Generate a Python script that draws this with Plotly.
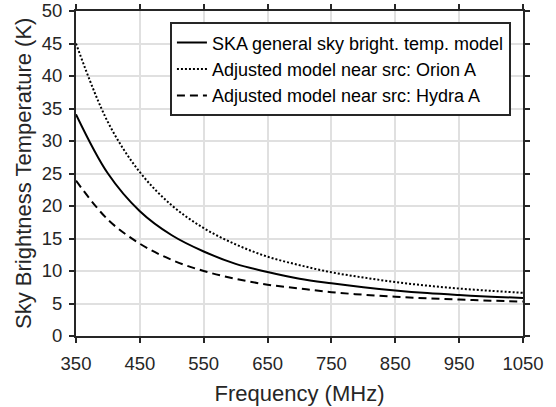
import plotly.graph_objects as go

freq = [350, 400, 450, 500, 550, 600, 650, 700, 750, 800, 850, 900, 950, 1000, 1050]
ska_general = [34.1, 25.0, 19.2, 15.5, 13.0, 11.1, 9.85, 8.8, 8.1, 7.5, 7.0, 6.6, 6.3, 6.05, 5.85]
orion_a = [45.0, 32.9, 25.2, 20.1, 16.6, 14.1, 12.2, 10.9, 9.8, 9.0, 8.3, 7.75, 7.3, 6.95, 6.65]
hydra_a = [23.9, 17.9, 14.2, 11.7, 10.0, 8.8, 7.9, 7.3, 6.75, 6.35, 6.05, 5.8, 5.6, 5.43, 5.3]

names = ["SKA general sky bright. temp. model",
         "Adjusted model near src: Orion A",
         "Adjusted model near src: Hydra A"]
x_ticks = [350, 450, 550, 650, 750, 850, 950, 1050]
y_ticks = [0, 5, 10, 15, 20, 25, 30, 35, 40, 45, 50]

dark = "#262626"
font = "Liberation Sans, Arial, Helvetica, sans-serif"

fig = go.Figure()
fig.add_trace(go.Scatter(x=freq, y=ska_general, mode="lines", name=names[0],
                         line=dict(color="black", width=2, shape="spline")))
fig.add_trace(go.Scatter(x=freq, y=orion_a, mode="lines", name=names[1],
                         line=dict(color="black", width=2, dash="2px,2px", shape="spline")))
fig.add_trace(go.Scatter(x=freq, y=hydra_a, mode="lines", name=names[2],
                         line=dict(color="black", width=2, dash="8px,5px", shape="spline")))

axis_common = dict(
    showline=True, linecolor=dark, linewidth=2, mirror="ticks",
    ticks="outside", ticklen=5, tickwidth=2, tickcolor=dark,
    showgrid=True, gridcolor="#e0e0e0", gridwidth=2,
    zeroline=False, automargin=False,
    tickfont=dict(family=font, size=18.5, color=dark),
)

fig.update_layout(
    width=556, height=407,
    margin=dict(l=76, r=33, t=11, b=71),
    paper_bgcolor="white", plot_bgcolor="white",
    font=dict(family=font, size=18, color=dark),
    xaxis=dict(range=[350, 1050], tickvals=x_ticks, ticklabelstandoff=5,
               title=dict(text="Frequency (MHz)", font=dict(family=font, size=22, color=dark), standoff=12),
               **axis_common),
    yaxis=dict(range=[0, 50], tickvals=y_ticks, ticklabelstandoff=3,
               **axis_common),
    legend=dict(x=0.973, y=0.965, xanchor="right", yanchor="top",
                bgcolor="white", bordercolor=dark, borderwidth=2,
                font=dict(family=font, size=18, color="black"),
                tracegroupgap=0),
    showlegend=True,
    annotations=[dict(text="Sky Brightness Temperature (K)", textangle=-90,
                      xref="paper", yref="paper", x=-0.1175, y=0.5,
                      xanchor="center", yanchor="middle", showarrow=False,
                      font=dict(family=font, size=22, color=dark))],
)

fig.write_html("out.html")
